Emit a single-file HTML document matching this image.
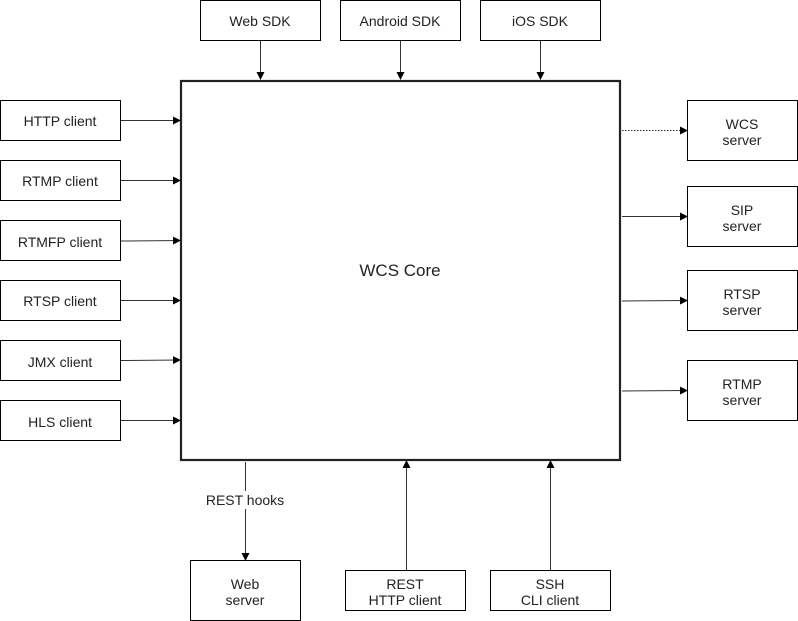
<!DOCTYPE html>
<html><head><meta charset="utf-8"><style>
html,body{margin:0;padding:0;background:#fff;}
svg{display:block;}
text{font-family:"Liberation Sans",Arial,sans-serif;font-size:14px;fill:#222;text-anchor:middle;}
</style></head><body>
<svg width="798" height="621" viewBox="0 0 798 621" xmlns="http://www.w3.org/2000/svg">
<defs>
<marker id="a" markerWidth="8" markerHeight="8" refX="7" refY="4" orient="auto" markerUnits="userSpaceOnUse">
<path d="M0,0 L8,4 L0,8 z" fill="#000"/>
</marker>
</defs>
<g fill="#fff" stroke="#000" stroke-width="1">
<rect x="200.5" y="0.5" width="120" height="40"/>
<rect x="340.5" y="0.5" width="120" height="40"/>
<rect x="480.5" y="0.5" width="120" height="40"/>
<rect x="0.5" y="100.5" width="120" height="40"/>
<rect x="0.5" y="160.5" width="120" height="40"/>
<rect x="0.5" y="220.5" width="120" height="40"/>
<rect x="0.5" y="280.5" width="120" height="40"/>
<rect x="0.5" y="340.5" width="120" height="40"/>
<rect x="0.5" y="400.5" width="120" height="40"/>
<rect x="687.5" y="100.5" width="110" height="60"/>
<rect x="687.5" y="186.5" width="110" height="60"/>
<rect x="687.5" y="270.5" width="110" height="60"/>
<rect x="687.5" y="360.5" width="110" height="60"/>
<rect x="190.5" y="560.5" width="110" height="60"/>
<rect x="345.5" y="570.5" width="120" height="40"/>
<rect x="490.5" y="570.5" width="120" height="40"/>
</g>
<rect x="181" y="81" width="439" height="379" fill="#fff" stroke="#222" stroke-width="2.2"/>
<g stroke="#333" stroke-width="1" fill="none">
<line x1="260.5" y1="41" x2="260.5" y2="79" marker-end="url(#a)"/>
<line x1="400.5" y1="41" x2="400.5" y2="79" marker-end="url(#a)"/>
<line x1="540.5" y1="41" x2="540.5" y2="79" marker-end="url(#a)"/>
<line x1="121" y1="120.5" x2="180" y2="120.5" marker-end="url(#a)"/>
<line x1="121" y1="180.5" x2="180" y2="180.5" marker-end="url(#a)"/>
<line x1="121" y1="241" x2="180" y2="240.5" marker-end="url(#a)"/>
<line x1="121" y1="300.5" x2="180" y2="300.5" marker-end="url(#a)"/>
<line x1="121" y1="360.5" x2="180" y2="360" marker-end="url(#a)"/>
<line x1="121" y1="420.5" x2="180" y2="420.5" marker-end="url(#a)"/>
<line x1="622" y1="130.5" x2="687" y2="130.5" stroke-dasharray="1.5,1.5" marker-end="url(#a)"/>
<line x1="622" y1="216.5" x2="687" y2="216.5" marker-end="url(#a)"/>
<line x1="622" y1="301" x2="687" y2="300.5" marker-end="url(#a)"/>
<line x1="622" y1="391" x2="687" y2="390.5" marker-end="url(#a)"/>
<line x1="245.5" y1="462" x2="245.5" y2="560" marker-end="url(#a)"/>
<line x1="406.5" y1="570" x2="406.5" y2="461" marker-end="url(#a)"/>
<line x1="550.5" y1="570" x2="550.5" y2="461" marker-end="url(#a)"/>
</g>
<rect x="200" y="491" width="90" height="18" fill="#fff"/>
<text x="245" y="505">REST hooks</text>
<text x="260" y="26">Web SDK</text>
<text x="400" y="26">Android SDK</text>
<text x="540" y="26">iOS SDK</text>
<text x="60" y="126">HTTP client</text>
<text x="60" y="186">RTMP client</text>
<text x="60" y="247">RTMFP client</text>
<text x="60" y="306">RTSP client</text>
<text x="60" y="367">JMX client</text>
<text x="60" y="427">HLS client</text>
<text x="742" y="129">WCS</text>
<text x="742" y="145">server</text>
<text x="742" y="215">SIP</text>
<text x="742" y="231">server</text>
<text x="742" y="299">RTSP</text>
<text x="742" y="315">server</text>
<text x="742" y="389">RTMP</text>
<text x="742" y="405">server</text>
<text x="245" y="589">Web</text>
<text x="245" y="605">server</text>
<text x="405" y="589">REST</text>
<text x="405" y="605">HTTP client</text>
<text x="550" y="589">SSH</text>
<text x="550" y="605">CLI client</text>
<text x="400" y="276" style="font-size:17px">WCS Core</text>
</svg>
</body></html>
